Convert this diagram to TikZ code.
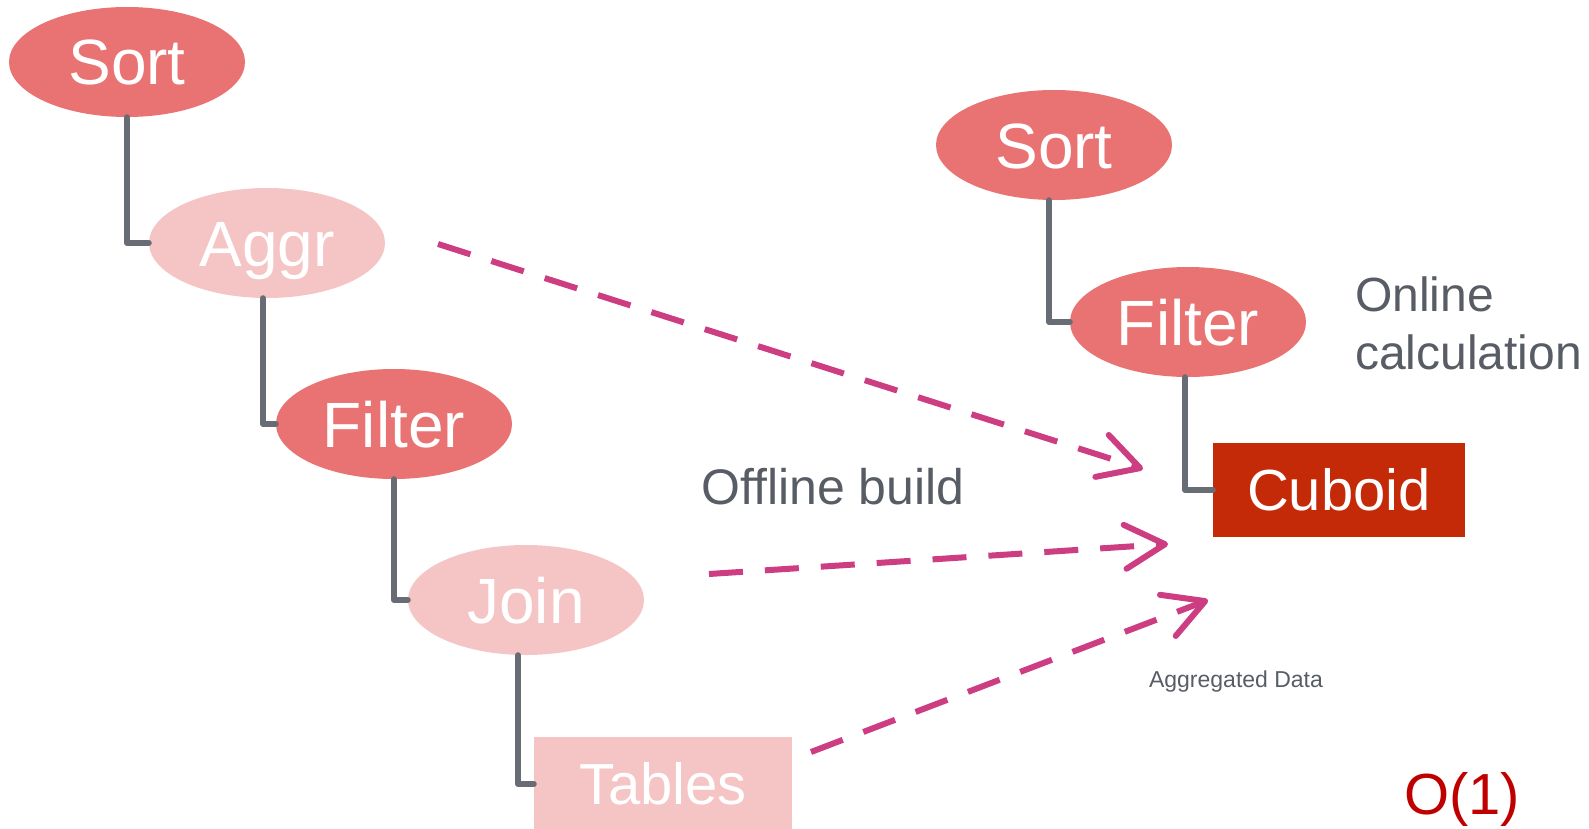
\documentclass[tikz,border=0pt]{standalone}
\usepackage{fontspec}
\setmainfont{Liberation Sans}
\usetikzlibrary{shapes.geometric,arrows.meta}
\definecolor{opdark}{HTML}{E97272}
\definecolor{oplight}{HTML}{F5C4C5}
\definecolor{cubered}{HTML}{C52A08}
\definecolor{linkgray}{HTML}{686D75}
\definecolor{flowpink}{HTML}{CC3D82}
\definecolor{notegray}{HTML}{585D65}
\definecolor{costred}{HTML}{C00000}
\tikzset{
  op/.style={ellipse, minimum width=236pt, minimum height=110pt, inner sep=0pt,
    text=white, font=\fontsize{64}{64}\selectfont, text height=46pt, text depth=0pt},
  hot/.style={op, fill=opdark},
  cold/.style={op, fill=oplight},
  tbox/.style={rectangle, inner sep=0pt, text=white,
    font=\fontsize{58}{58}\selectfont, text height=41.5pt, text depth=0pt},
  link/.style={draw=linkgray, line width=6pt, line cap=round, line join=round},
  flow/.style={draw=flowpink, line width=6pt, dash pattern=on 34pt off 22pt,
    -{Straight Barb[length=40pt, width=44pt, round]}},
  note/.style={text=notegray, inner sep=0pt, anchor=base},
}
\begin{document}
\begin{tikzpicture}[x=1pt, y=-1pt]
  \useasboundingbox (0,0) rectangle (1589,829);
  \node[hot] (sortA) at (127,62) {Sort};
  \node[cold] (aggr) at (267,243) {Aggr};
  \node[hot] (filterA) at (394,424) {Filter};
  \node[cold] (join) at (526,600) {Join};
  \node[tbox, fill=oplight, minimum width=258pt, minimum height=94pt] (tables) at (663,784) {Tables};
  \node[hot] (sortB) at (1054,145) {Sort};
  \node[hot] (filterB) at (1188,322) {Filter};
  \node[tbox, fill=cubered, minimum width=252pt, minimum height=94pt] (cuboid) at (1339,490) {Cuboid};
  \draw[link] (sortA.south) |- (aggr.west);
  \draw[link] ([xshift=-4pt]aggr.south) |- (filterA.west);
  \draw[link] (filterA.south) |- (join.west);
  \draw[link] ([xshift=-8pt]join.south) |- (tables.west);
  \draw[link] ([xshift=-5pt]sortB.south) |- (filterB.west);
  \draw[link] ([xshift=-3pt]filterB.south) |- (cuboid.west);
  \coordinate (fromAggr) at (438,244);
  \coordinate (fromJoin) at (709,574);
  \coordinate (fromTables) at (811,752);
  \coordinate (toAggr) at (1143,469);
  \coordinate (toJoin) at (1168,544);
  \coordinate (toTables) at (1208,600);
  \draw[flow] (fromAggr) -- (toAggr);
  \draw[flow] (fromJoin) -- (toJoin);
  \draw[flow] (fromTables) -- (toTables);
  \node[note, font=\fontsize{50}{50}\selectfont] (offline) at (833,504) {Offline build};
  \node[note, anchor=north west, align=left, font=\fontsize{48}{58}\selectfont] (online) at (1355,277) {Online\\calculation};
  \node[note, font=\fontsize{23}{23}\selectfont] (aggdata) at (1236,687) {Aggregated Data};
  \node[note, text=costred, font=\fontsize{58}{58}\selectfont] (cost) at (1462,814) {O(1)};
\end{tikzpicture}
\end{document}
